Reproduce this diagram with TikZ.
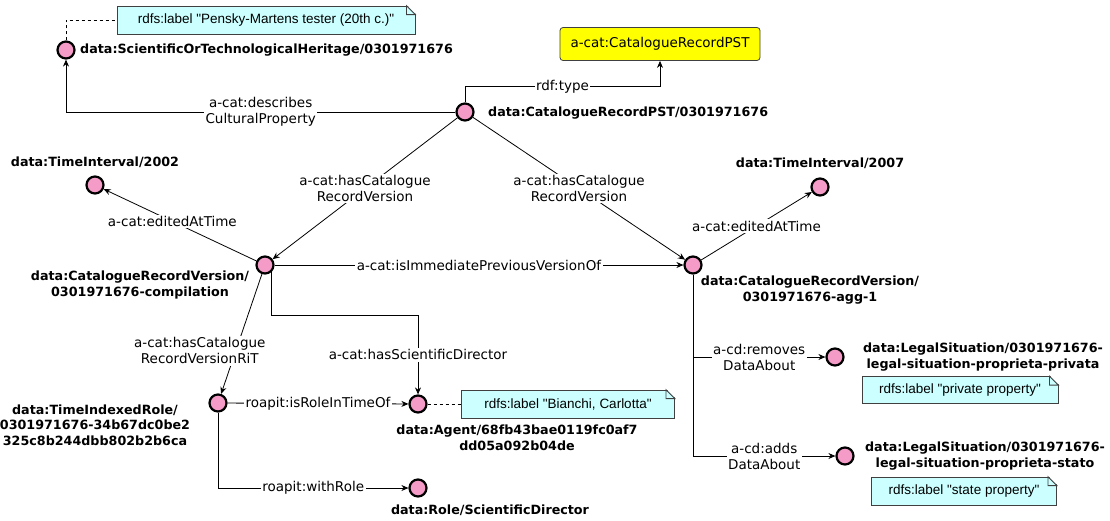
\documentclass[tikz,border=0pt]{standalone}
\usepackage{fontspec}
\setmainfont{DejaVu Sans}
\newfontfamily\notefont{Liberation Sans}
\usetikzlibrary{arrows.meta}
\definecolor{pinkfill}{RGB}{245,155,200}
\definecolor{notefill}{RGB}{204,255,255}
\definecolor{catfill}{RGB}{255,255,0}
\tikzset{
  res/.style={circle, draw, line width=2.2pt, fill=pinkfill, minimum size=17pt, inner sep=0pt},
  iri/.style={font=\fontsize{12.7}{15.5}\selectfont\bfseries, align=center, inner sep=0pt},
  link/.style={line width=0.8pt, -{Stealth[length=7pt,width=6pt]}},
  elabel/.style={fill=white, inner sep=1.5pt, align=center, font=\fontsize{13.5}{16}\selectfont},
  note/.style={draw=black!75, fill=notefill, line width=0.8pt, inner sep=0pt, font=\notefont\fontsize{13.5}{15}\selectfont},
  cls/.style={draw=black!75, fill=catfill, line width=0.8pt, rounded corners=3pt, inner sep=0pt, minimum width=200pt, minimum height=33pt, font=\fontsize{13.5}{16}\selectfont}
}
\begin{document}
\begin{tikzpicture}[x=1pt, y=-1pt]
\useasboundingbox (0,0) rectangle (1110,520);
\node[res] (herit) at (66,50){};
\node[iri, anchor=west] (herit-lbl) at (80,50){data:ScientificOrTechnologicalHeritage/0301971676};
\node[note, minimum width=298pt, minimum height=28pt] (nherit) at (266,20){rdfs:label "Pensky-Martens tester (20th c.)"};
\node[cls] (cat) at (660,44){a-cat:CatalogueRecordPST};
\node[res] (pst) at (465,112){};
\node[iri, anchor=west] (pst-lbl) at (488,113){data:CatalogueRecordPST/0301971676};
\node[res] (ti2002) at (95,185){};
\node[iri] (ti2002-lbl) at (95,162){data:TimeInterval/2002};
\node[res] (compil) at (265,265){};
\node[iri] (compil-lbl) at (140,285){data:CatalogueRecordVersion/\\0301971676-compilation};
\node[res] (agg) at (693,265){};
\node[iri] (agg-lbl) at (810,290){data:CatalogueRecordVersion/\\0301971676-agg-1};
\node[res] (ti2007) at (820,187){};
\node[iri] (ti2007-lbl) at (820,163){data:TimeInterval/2007};
\node[res] (tir) at (218,403){};
\node[iri] (tir-lbl) at (95,425){data:TimeIndexedRole/\\0301971676-34b67dc0be2\\325c8b244dbb802b2b6ca};
\node[res] (agent) at (418,404){};
\node[iri] (agent-lbl) at (517,438){data:Agent/68fb43bae0119fc0af7\\dd05a092b04de};
\node[note, minimum width=213pt, minimum height=28pt] (nagent) at (568,404){rdfs:label "Bianchi, Carlotta"};
\node[res] (role) at (418,488){};
\node[iri] (role-lbl) at (490,510){data:Role/ScientificDirector};
\node[res] (legpriv) at (835,357){};
\node[iri] (legpriv-lbl) at (983,357){data:LegalSituation/0301971676-\\legal-situation-proprieta-privata};
\node[note, minimum width=196pt, minimum height=27pt] (npriv) at (960,390){rdfs:label "private property"};
\node[res] (legstato) at (845,456){};
\node[iri] (legstato-lbl) at (985,456){data:LegalSituation/0301971676-\\legal-situation-proprieta-stato};
\node[note, minimum width=185pt, minimum height=28pt] (nstato) at (964,491){rdfs:label "state property"};
\foreach \n in {nherit,nagent,npriv,nstato}{
  \fill[white] ([xshift=-9pt,yshift=1pt]\n.north east) -- ([xshift=1pt,yshift=1pt]\n.north east) -- ([xshift=1pt,yshift=-9pt]\n.north east) -- cycle;
  \draw[black!75, line width=0.8pt] ([xshift=-9pt]\n.north east) -- ([xshift=-9pt,yshift=-9pt]\n.north east) -- ([yshift=-9pt]\n.north east) -- cycle;
}
\draw[dashed, line width=0.8pt] (herit.north) |- (nherit.west);
\draw[dashed, line width=0.8pt] (agent) -- (nagent);
\draw[link] (pst.north) -- ++(0,-16) -| node[elabel, pos=0.25]{rdf:type} (cat.south);
\draw[link] (pst.west) -| node[elabel, pos=0.25]{a-cat:describes\\CulturalProperty} (herit.south);
\draw[link] (pst) -- node[elabel]{a-cat:hasCatalogue\\RecordVersion} (compil);
\draw[link] (pst) -- node[elabel]{a-cat:hasCatalogue\\RecordVersion} (agg);
\draw[link] (compil) -- node[elabel, pos=0.55]{a-cat:editedAtTime} (ti2002);
\draw[link] (agg) -- node[elabel]{a-cat:editedAtTime} (ti2007);
\draw[link] (compil) -- node[elabel]{a-cat:isImmediatePreviousVersionOf} (agg);
\draw[link] (compil) -- node[elabel, pos=0.64, xshift=-36pt]{a-cat:hasCatalogue\\RecordVersionRiT} (tir);
\draw[link] (compil.-50) -- ++(0,43) -| node[elabel, pos=0.75]{a-cat:hasScientificDirector} (agent.north);
\draw[link] (tir) -- node[elabel]{roapit:isRoleInTimeOf} (agent);
\draw[link] (tir.south) |- node[elabel, pos=0.75]{roapit:withRole} (role.west);
\draw[link] (agg.south) |- node[elabel, pos=0.75]{a-cd:removes\\DataAbout} (legpriv.west);
\draw[link] (agg.south) |- node[elabel, pos=0.75]{a-cd:adds\\DataAbout} (legstato.west);
\end{tikzpicture}
\end{document}
